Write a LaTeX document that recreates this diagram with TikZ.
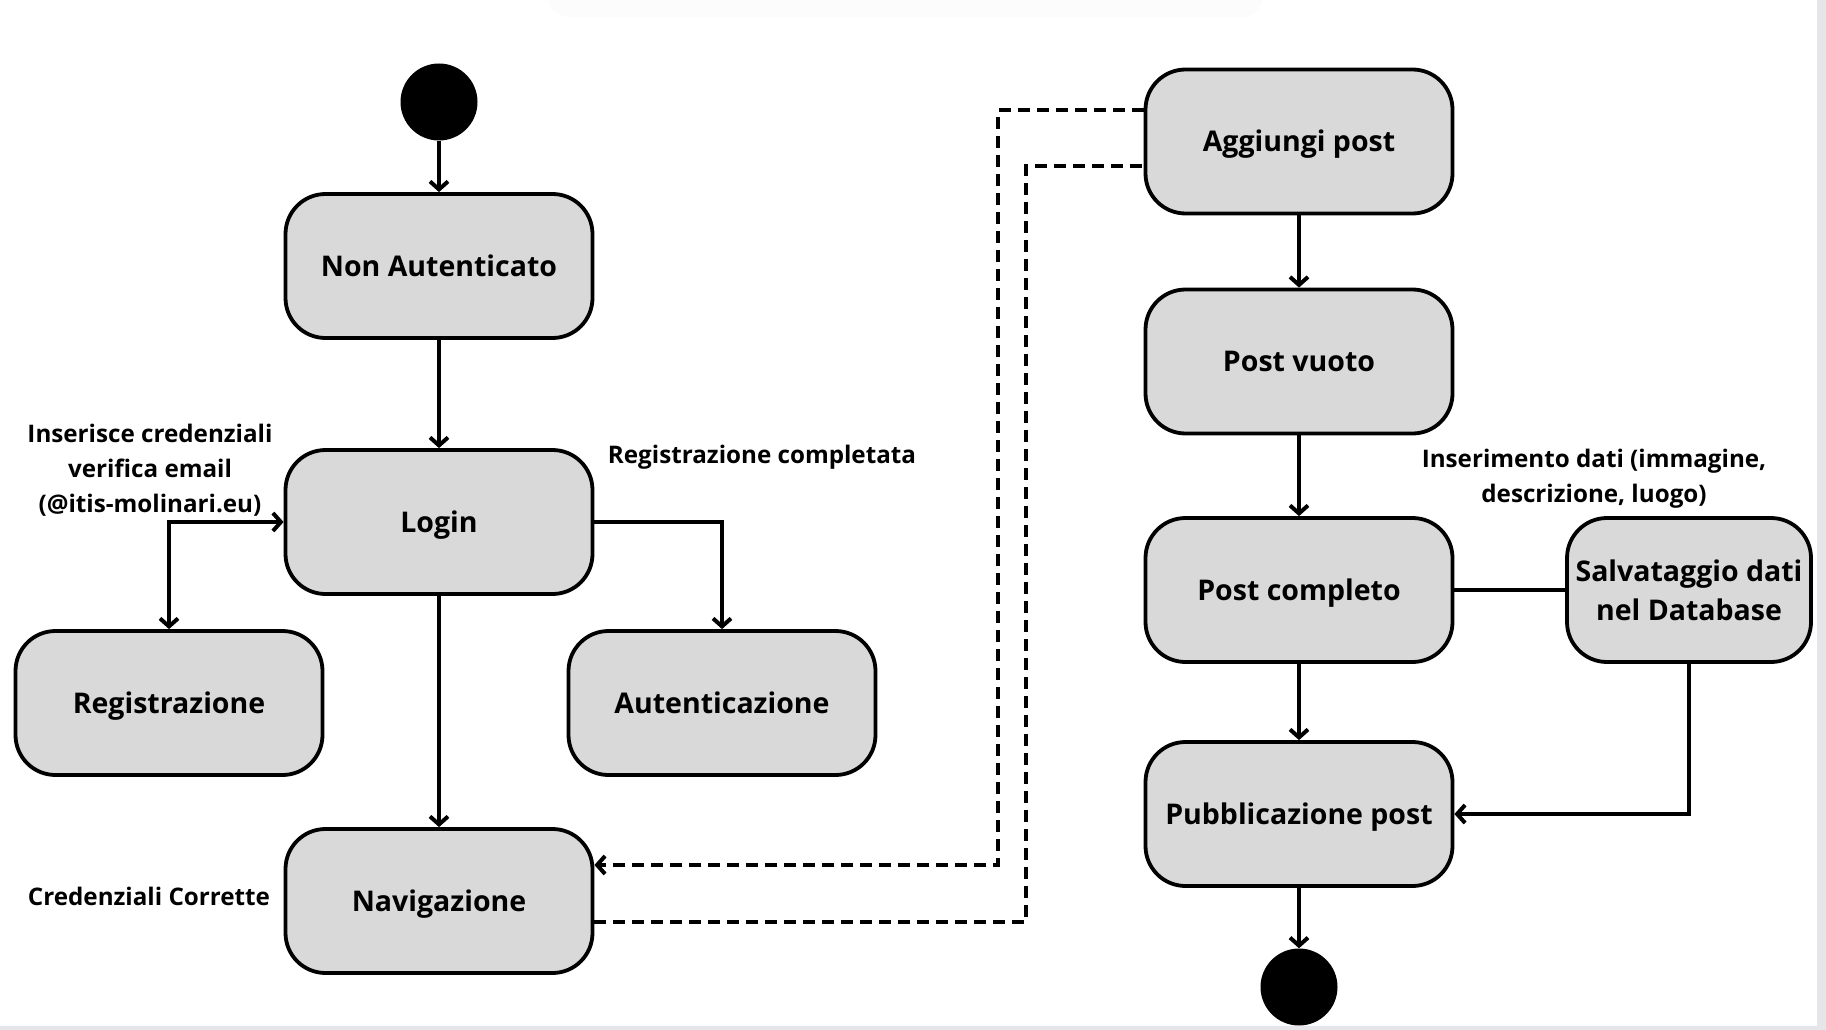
\documentclass[tikz,border=0pt]{standalone}
\usepackage{fontspec}
\setmainfont{Open Sans}
\usetikzlibrary{arrows.meta,positioning,calc}
\definecolor{boxgray}{HTML}{D9D9D9}
\definecolor{edgegray}{HTML}{E6E6EA}
\tikzset{
  statebase/.style={draw=black, fill=boxgray, line width=3.8pt, rounded corners=40pt,
    minimum width=307pt, minimum height=144pt, align=center,
    font=\fontsize{28.5}{39}\selectfont\bfseries},
  state/.style={statebase, text height=20.5pt, text depth=0pt},
  dot/.style={circle, fill=black, draw=none, minimum size=77pt, inner sep=0pt},
  lbl/.style={align=center, font=\fontsize{24.2}{35}\selectfont\bfseries},
  conn/.style={line width=4pt, draw=black},
  arr/.style={conn, -{Straight Barb[length=8pt,width=18pt]}},
  dsh/.style={conn, dash pattern=on 12pt off 7pt},
}
\begin{document}
\begin{tikzpicture}[x=1pt,y=-1pt]
\useasboundingbox (0,0) rectangle (1826,1030);
\fill[white] (0,0) rectangle (1826,1030);
\fill[gray!2, rounded corners=22pt] (547,-40) rectangle (1263,17);
\fill[edgegray] (1817,0) rectangle (1826,1030);
\fill[edgegray] (0,1026) rectangle (1826,1030);

% nodes
\node[dot] (start) at (439,102) {};
\node[state] (nonaut) at (439,266) {Non Autenticato};
\node[state] (login) at (439,522) {Login};
\node[state] (reg) at (169,703) {Registrazione};
\node[state] (aut) at (722,703) {Autenticazione};
\node[state] (nav) at (439,901) {Navigazione};

\node[state] (agg) at (1299,141.5) {Aggiungi post};
\node[state] (vuoto) at (1299,361.5) {Post vuoto};
\node[state] (compl) at (1299,590) {Post completo};
\node[statebase, minimum width=244pt] (salv) at (1689,590) {Salvataggio dati\\nel Database};
\node[state] (pubb) at (1299,814) {Pubblicazione post};
\node[dot] (end) at (1299,987) {};

% labels
\node[lbl] (l1) at (150,470.5) {Inserisce credenziali\\verifica email\\(@itis-molinari.eu)};
\node[lbl] (l2) at (762,457.5) {Registrazione completata};
\node[lbl] (l3) at (149,896.5) {Credenziali Corrette};
\node[lbl] (l4) at (1594,478.5) {Inserimento dati (immagine,\\descrizione, luogo)};

% connectors
\draw[arr] (start) -- (nonaut);
\draw[arr] (nonaut) -- (login);
\draw[conn, {Straight Barb[length=8pt,width=18pt]}-{Straight Barb[length=8pt,width=18pt]}]
  (reg.north) -- (reg.north |- login.west) -- (login.west);
\draw[arr] (login.east) -- (aut.north |- login.east) -- (aut.north);
\draw[arr] (login) -- (nav);

\draw[dsh, -{Straight Barb[length=8pt,width=18pt]}]
  ([yshift=31pt]agg.west) -| (998,865) -- ([yshift=36pt]nav.east);
\draw[dsh] ([yshift=-21pt]nav.east) -- (1026,922) |- ([yshift=-24.5pt]agg.west);

\draw[arr] (agg) -- (vuoto);
\draw[arr] (vuoto) -- (compl);
\draw[conn] (compl) -- (salv);
\draw[arr] (compl) -- (pubb);
\draw[arr] (salv.south) |- (pubb.east);
\draw[arr] (pubb) -- (end);
\end{tikzpicture}
\end{document}
